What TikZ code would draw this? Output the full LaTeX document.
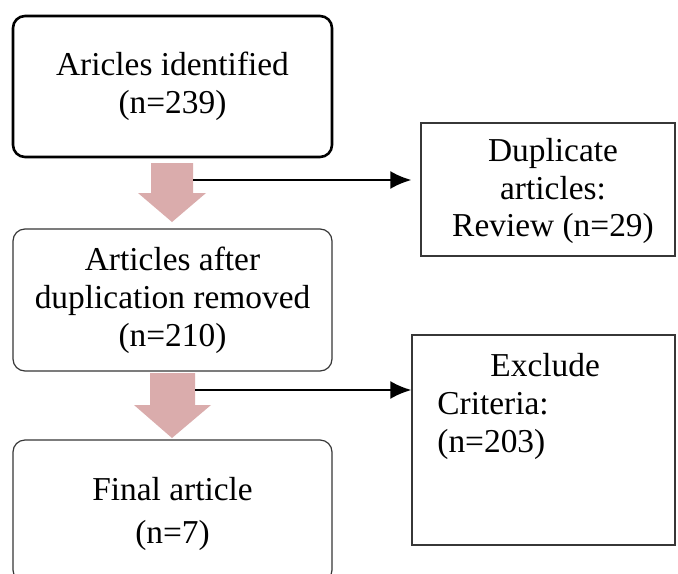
\documentclass[tikz,border=0pt]{standalone}
\usepackage{fontspec}
\setmainfont{Liberation Serif}
\usetikzlibrary{arrows.meta}
\definecolor{arrowpink}{RGB}{218,172,172}
\definecolor{boxgray}{RGB}{55,55,55}

\begin{document}
\begin{tikzpicture}[x=0.5pt,y=-0.5pt,font=\fontsize{16.7}{18.9}\selectfont,
        roundbox/.style={draw=boxgray,rounded corners=6pt,line width=0.6pt,minimum width=159.5pt,align=center,inner sep=0pt},
        plainbox/.style={draw=boxgray,line width=0.7pt,inner sep=0pt},
        blockarrow/.style={fill=arrowpink,draw=none},
        link/.style={-{Latex[length=10.5pt,width=9pt]},line width=1.1pt}]
        \useasboundingbox (0,0) rectangle (678,573);
        \clip (0,0) rectangle (678,573);
        \fill [white] (0,0) rectangle (678,573);
        % left column
        \node [roundbox,draw=black,line width=1.3pt,minimum height=70.5pt] (ident) at (172.5,86.5) {Aricles identified\\(n=239)};
        \node [roundbox,minimum height=71pt] (after) at (172.5,300) {Articles after\\duplication removed\\(n=210)};
        \node [roundbox,minimum height=71pt] (final) at (172.5,511) {};
        \node [align=center,inner sep=0pt] (finaltext) at (172.5,514) {Final article\\[2.5pt](n=7)};
        % right column
        \node [plainbox,minimum width=127pt,minimum height=66.5pt] (dup) at (548,189.5) {};
        \node [align=center,inner sep=0pt] (duptext) at (553,191) {Duplicate\\articles:\\Review (n=29)};
        \node [plainbox,minimum width=131.5pt,minimum height=105pt] (excl) at (543.5,440) {};
        \node [anchor=north west,align=left,inner sep=0pt] (excltext) at (437,353) {\hspace*{26.5pt}Exclude\\Criteria:\\(n=203)};
        % block arrows
        \fill [blockarrow] (151,163) -- (193,163) -- (193,193) -- (206,193) -- (172,222) -- (138,193) -- (151,193) -- cycle;
        \coordinate (tap1) at (193,180);
        \fill [blockarrow] (150,373) -- (195,373) -- (195,405) -- (211,405) -- (172,438) -- (134,405) -- (150,405) -- cycle;
        \coordinate (tap2) at (195,390);
        % side links
        \draw [link,shorten >=4.5pt] (tap1) -- (tap1 -| dup.west);
        \draw [link] (tap2) -- (tap2 -| excl.west);
\end{tikzpicture}
\end{document}
